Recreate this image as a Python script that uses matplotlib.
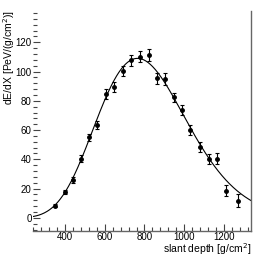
import numpy as np
import matplotlib
matplotlib.use("Agg")
import matplotlib.pyplot as plt
from matplotlib.ticker import MultipleLocator, FixedLocator

# data
depth = [350, 400, 439, 482, 522, 561, 606, 648, 694, 734, 779, 821, 865, 905,
         948, 989, 1031, 1078, 1124, 1167, 1214, 1271]
dedx = [8.4, 17.5, 25.7, 40.5, 55.0, 63.5, 84.4, 89.2, 100.3, 107.8, 110.1, 111.3,
        95.3, 94.7, 82.4, 73.9, 60.3, 48.3, 40.3, 40.5, 18.6, 11.8]
err = [1.2, 1.5, 2.0, 2.2, 2.5, 2.8, 3.4, 3.5, 3.6, 3.8, 3.8, 4.2,
       3.8, 4.0, 3.2, 3.5, 3.4, 3.6, 3.6, 3.8, 3.8, 4.2]
yticks = [0, 20, 40, 60, 80, 100, 120]
xticks = [400, 600, 800, 1000, 1200]

# Gaisser-Hillas fit parameters
Nmax, Xmax, X0, lam = 109.0, 765.0, -100.0, 60.0

plt.rcParams['font.family'] = ['Liberation Sans', 'DejaVu Sans']

fig = plt.figure(figsize=(2.56, 2.58), dpi=100)
ax = fig.add_axes([0.129, 0.105, 0.851, 0.852])

xx = np.linspace(238, 1337, 400)
w = (Xmax - X0) / lam
yy = Nmax * ((xx - X0) / (Xmax - X0)) ** w * np.exp((Xmax - xx) / lam)
ax.plot(xx, yy, color='black', lw=0.8)

ax.errorbar(depth, dedx, yerr=err, fmt='o', color='black', ms=2.5,
            elinewidth=0.8, capsize=1.2, capthick=0.8)

ax.set_xlim(238, 1337)
ax.set_ylim(-8.9, 141.3)

ax.xaxis.set_major_locator(FixedLocator(xticks))
ax.xaxis.set_minor_locator(MultipleLocator(40))
ax.yaxis.set_major_locator(FixedLocator(yticks))
ax.yaxis.set_minor_locator(MultipleLocator(4))

for s in ['left', 'top']:
    ax.spines[s].set_visible(False)
for s in ['right', 'bottom']:
    ax.spines[s].set_color('#666666')
    ax.spines[s].set_linewidth(1.0)

ax.tick_params(axis='both', which='both', direction='in', color='#444444',
               labelsize=7.0, width=0.8)
ax.tick_params(axis='x', which='major', length=5, pad=1)
ax.tick_params(axis='x', which='minor', length=3)
ax.tick_params(axis='y', which='major', length=5, pad=1)
ax.tick_params(axis='y', which='minor', length=3)
ax.tick_params(right=False, top=False, which='both')

ax.set_xlabel('slant depth [g/cm$^2$]', fontsize=7.5, loc='right')
ax.xaxis.set_label_coords(1.0, -0.082)
ax.xaxis.label.set_va('center')
ax.set_ylabel('dE/dX [PeV/(g/cm$^2$)]', fontsize=7.5, loc='top')
ax.yaxis.set_label_coords(-0.112, 1.005)
ax.yaxis.label.set_va('center')

fig.savefig('out.png', dpi=100)
